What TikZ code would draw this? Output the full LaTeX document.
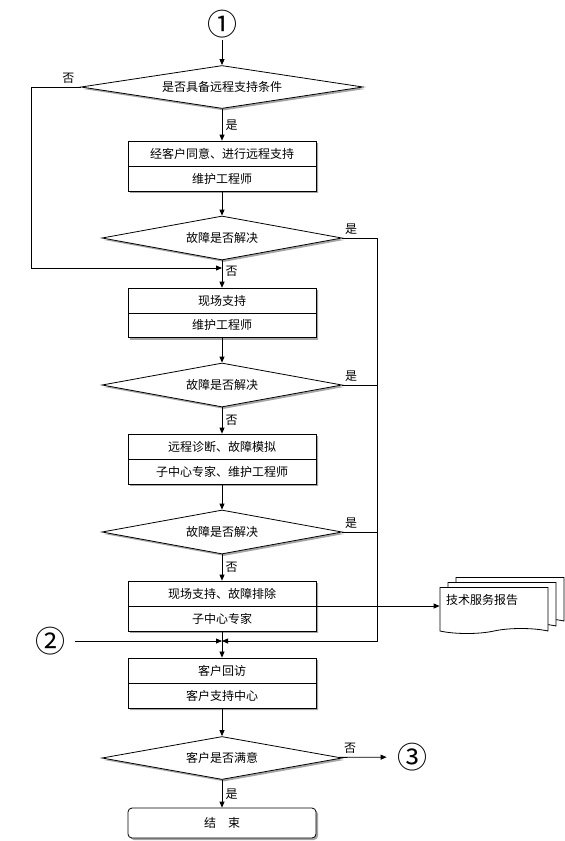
\documentclass[tikz,border=0pt]{standalone}
\usepackage{fontspec}
\setmainfont{Noto Sans CJK SC}
\usetikzlibrary{shapes,shapes.geometric,shapes.symbols,shadows,arrows.meta,positioning,calc}

\newcommand{\circfont}{\fontsize{30}{30}\selectfont}

\begin{document}
\begin{tikzpicture}[x=1pt, y=-1pt, font=\fontsize{12}{14}\selectfont,
    line width=0.8pt, >={Triangle[length=6pt,width=5pt]},
    shade/.style={drop shadow={shadow xshift=2pt, shadow yshift=-2pt, fill=gray, opacity=.7}},
    box/.style={rectangle split, rectangle split parts=2, draw, fill=white,
      text width=176pt, align=center, inner xsep=6pt, inner ysep=6.5pt, shade},
    decision/.style={diamond, draw, fill=white, aspect=5.5, inner sep=0pt,
      minimum width=240pt, minimum height=44pt, shade},
    endbox/.style={rectangle, rounded corners=4pt, draw, fill=white,
      minimum width=188pt, minimum height=30pt, shade},
    circ/.style={inner sep=2pt, font=\circfont}]

    \useasboundingbox (0,0) rectangle (565,841);

    % main column
    \node[circ] (c1) at (222,24) {①};
    \node[decision, minimum width=282pt, minimum height=43pt] (d1) at (222,87)
      {是否具备远程支持条件};
    \node[box] (b1) at (222,166)
      {经客户同意、进行远程支持\nodepart{two}维护工程师};
    \node[decision] (d2) at (222,238) {故障是否解决};
    \coordinate (j1) at (222,268);
    \node[box] (b2) at (222,313)
      {现场支持\nodepart{two}维护工程师};
    \node[decision] (d3) at (222,385) {故障是否解决};
    \node[box] (b3) at (222,459)
      {远程诊断、故障模拟\nodepart{two}子中心专家、维护工程师};
    \node[decision] (d4) at (222,532) {故障是否解决};
    \node[box] (b4) at (222,606)
      {现场支持、故障排除\nodepart{two}子中心专家};
    \coordinate (j2) at (222,641);
    \node[box] (b5) at (222,683)
      {客户回访\nodepart{two}客户支持中心};
    \node[decision, minimum height=43pt] (d5) at (222,758) {客户是否满意};
    \node[endbox] (e) at (222,823) {结　束};

    % side nodes
    \node[circ] (c2) at (50,641) {②};
    \node[circ] (c3) at (412,757) {③};
    \node[tape, tape bend top=none, draw, fill=white, minimum width=108pt,
      minimum height=46pt, text width=96pt, align=left, inner xsep=6pt,
      text depth=18pt, double copy shadow={shadow xshift=8pt, shadow yshift=5pt}]
      (rep) at (494,608) {技术服务报告};

    % connectors
    \draw[->] (c1) -- (d1);
    \draw[->] (d1) -- node[right] {是} (b1);
    \draw[->] (d1.west) -- node[above, pos=.25] {否} ++(-49,0) |- (j1);
    \draw[->] (b1) -- (d2);
    \draw[->] (d2) -- node[right, pos=.4] {否} (b2);
    \draw[->] (b2) -- (d3);
    \draw[->] (d3) -- node[right] {否} (b3);
    \draw[->] (b3) -- (d4);
    \draw[->] (d4) -- node[right] {否} (b4);
    \draw[->] (b4) -- (b5);
    \draw[->] (b5) -- (d5);
    \draw[->] (d5) -- node[right] {是} (e);
    \draw[->, shorten >=8pt] (d5) -- node[above, pos=.2] {否} (c3);

    \draw[->] (d2.east) -- node[above, pos=.25] {是} ++(35,0) coordinate (tr) |- (j2);
    \draw (d3.east) -- node[above, pos=.25] {是} (d3.east -| tr);
    \draw (d4.east) -- node[above, pos=.25] {是} (d4.east -| tr);
    \draw[->, shorten <=8pt] (c2) -- (j2);
    \draw[->] (b4.one split east) -- (b4.one split east -| rep.west);

  \end{tikzpicture}
\end{document}
